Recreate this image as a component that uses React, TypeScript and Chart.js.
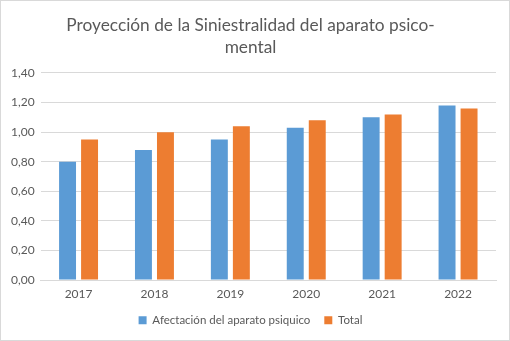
import React, { useEffect, useRef } from "react";
import { Chart, registerables } from "chart.js";

Chart.register(...registerables);

const categories = ["2017", "2018", "2019", "2020", "2021", "2022"];
const afectacion = [0.8, 0.88, 0.95, 1.03, 1.1, 1.18];
const total = [0.95, 1.0, 1.04, 1.08, 1.12, 1.16];
const titleLines = ["Proyección de la Siniestralidad del aparato psico-", "mental"];
const seriesNames = ["Afectación del aparato psiquico", "Total"];

export default function App() {
  const ref = useRef<HTMLCanvasElement>(null);
  useEffect(() => {
    document.body.style.margin = "0";
    const ctx = ref.current!;
    const chart = new Chart(ctx, {
      type: "bar",
      data: {
        labels: categories,
        datasets: [
          { label: seriesNames[0], data: afectacion, backgroundColor: "#5b9bd5", categoryPercentage: 0.58, barPercentage: 0.77 },
          { label: seriesNames[1], data: total, backgroundColor: "#ed7d31", categoryPercentage: 0.58, barPercentage: 0.77 },
        ],
      },
      options: {
        animation: false,
        responsive: false,
        maintainAspectRatio: false,
        layout: { padding: { left: 4, right: 13, top: 9, bottom: 4 } },
        plugins: {
          tooltip: { enabled: false },
          title: {
            display: true,
            text: titleLines,
            color: "#595959",
            font: { family: "Lato, 'Open Sans', sans-serif", size: 17.3, weight: "normal", lineHeight: 1.3 },
            padding: { top: 4, bottom: 14 },
          },
          legend: {
            position: "bottom",
            labels: {
              color: "#595959",
              font: { family: "Lato, 'Open Sans', sans-serif", size: 11.5 },
              boxWidth: 8,
              boxHeight: 8,
              padding: 14,
            },
          },
        },
        scales: {
          x: {
            grid: { display: false },
            border: { color: "#d9d9d9" },
            ticks: { color: "#595959", font: { family: "Lato, 'Open Sans', sans-serif", size: 12 }, padding: -1 },
          },
          y: {
            min: 0,
            max: 1.4,
            ticks: {
              stepSize: 0.2,
              color: "#595959",
              font: { family: "Lato, 'Open Sans', sans-serif", size: 12 },
              padding: 6,
              callback: (v: any) => Number(v).toFixed(2).replace(".", ","),
            },
            grid: { color: "#d9d9d9", drawTicks: false },
            border: { display: false },
          },
        },
      },
    });
    return () => chart.destroy();
  }, []);
  return (
    <div style={{ position: "fixed", left: 0, top: 0, width: 510, height: 341, boxSizing: "border-box", border: "1px solid #d9d9d9", background: "#fff" }}>
      <canvas ref={ref} width={508} height={339} style={{ display: "block" }} />
    </div>
  );
}
